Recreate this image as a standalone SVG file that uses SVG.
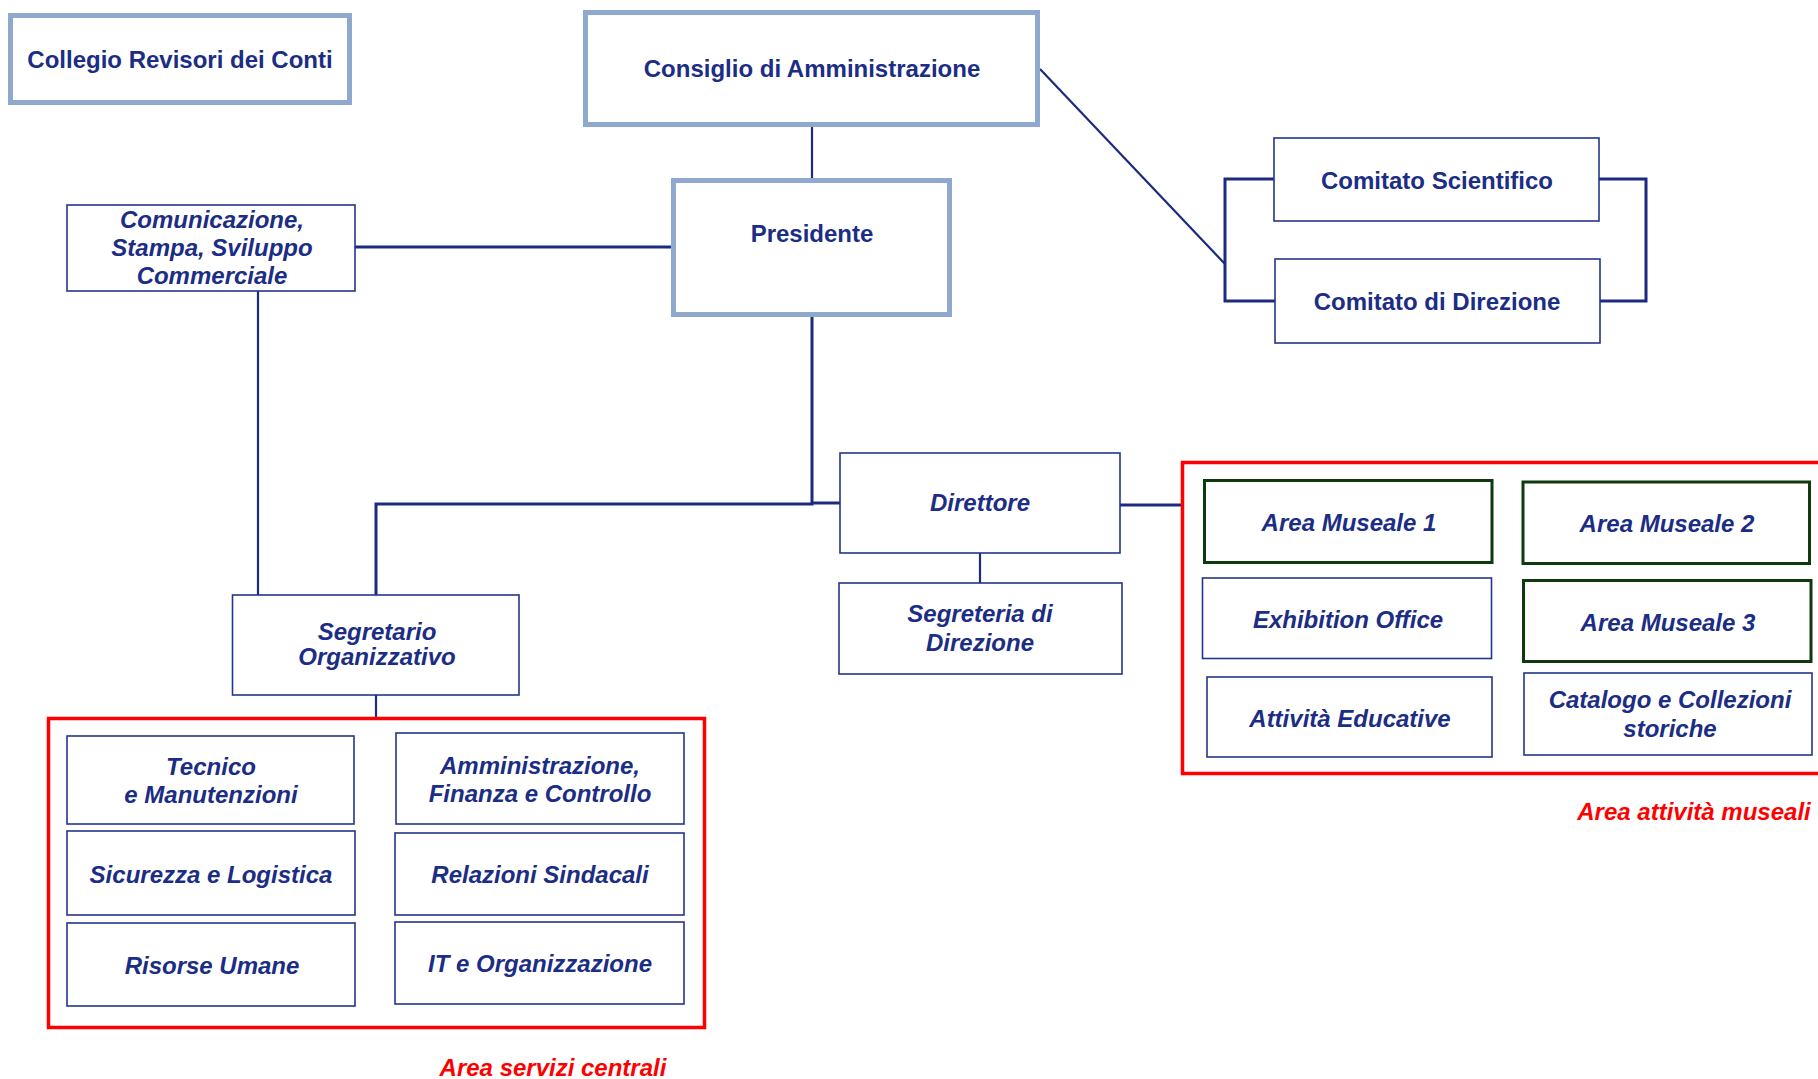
<svg xmlns="http://www.w3.org/2000/svg" width="1818" height="1079" viewBox="0 0 1818 1079">
<style>
  .bg { fill: #ffffff; }
  .thick { fill: #ffffff; stroke: #8EA8CE; stroke-width: 5; }
  .thin { fill: #ffffff; stroke: #23368A; stroke-width: 1.6; }
  .green { fill: #ffffff; stroke: #0E3A0E; stroke-width: 3; }
  .area { fill: none; stroke: #FF0000; stroke-width: 3.5; }
  .conn { fill: none; stroke: #1A2B80; stroke-width: 2.2; }
  .conn3 { fill: none; stroke: #1A2B80; stroke-width: 3; }
  text { font-family: "Liberation Sans", Arial, sans-serif; font-size: 24px; font-weight: bold; fill: #1B2D84; text-anchor: middle; }
  .it { font-style: italic; }
  .red { fill: #FF0000; font-style: italic; }
</style>
<rect class="bg" x="0" y="0" width="1818" height="1079"/>

<g id="connectors">
  <line class="conn" x1="812" y1="127" x2="812" y2="178"/>
  <line class="conn3" x1="355" y1="247" x2="671" y2="247"/>
  <line class="conn" x1="258" y1="291" x2="258" y2="595"/>
  <polyline class="conn3" points="812,317 812,504 376,504 376,595"/>
  <line class="conn3" x1="812" y1="503" x2="840" y2="503"/>
  <line class="conn" x1="980" y1="553" x2="980" y2="583"/>
  <line class="conn3" x1="1120" y1="505" x2="1181" y2="505"/>
  <line class="conn" x1="376" y1="695" x2="376" y2="717"/>
  <line class="conn" x1="1040" y1="69" x2="1225" y2="264"/>
  <polyline class="conn3" points="1274,179 1225,179 1225,301 1275,301"/>
  <polyline class="conn3" points="1599,179 1646,179 1646,301 1600,301"/>
</g>

<g id="collegio">
  <rect class="thick" x="10.5" y="15.5" width="339" height="87"/>
  <text x="180" y="68">Collegio Revisori dei Conti</text>
</g>
<g id="consiglio">
  <rect class="thick" x="585.5" y="12.5" width="452" height="112"/>
  <text x="812" y="77">Consiglio di Amministrazione</text>
</g>
<g id="presidente">
  <rect class="thick" x="673.5" y="180.5" width="276" height="134"/>
  <text x="812" y="242">Presidente</text>
</g>
<g id="comunicazione">
  <rect class="thin" x="67" y="205" width="288" height="86"/>
  <text class="it" x="212" y="228">Comunicazione,</text>
  <text class="it" x="212" y="256">Stampa, Sviluppo</text>
  <text class="it" x="212" y="284">Commerciale</text>
</g>
<g id="comitato-scientifico">
  <rect class="thin" x="1274" y="138" width="325" height="83"/>
  <text x="1437" y="189">Comitato Scientifico</text>
</g>
<g id="comitato-direzione">
  <rect class="thin" x="1275" y="259" width="325" height="84"/>
  <text x="1437" y="310">Comitato di Direzione</text>
</g>
<g id="direttore">
  <rect class="thin" x="840" y="453" width="280" height="100"/>
  <text class="it" x="980" y="511">Direttore</text>
</g>
<g id="segreteria">
  <rect class="thin" x="839" y="583" width="283" height="91"/>
  <text class="it" x="980" y="622">Segreteria di</text>
  <text class="it" x="980" y="651">Direzione</text>
</g>
<g id="segretario">
  <rect class="thin" x="232.5" y="595" width="286.5" height="100"/>
  <text class="it" x="377" y="640">Segretario</text>
  <text class="it" x="377" y="665">Organizzativo</text>
</g>

<g id="area-servizi-centrali">
  <rect class="area" x="48.5" y="718.5" width="656" height="309"/>
  <text class="red" x="553" y="1076">Area servizi centrali</text>
</g>
<g id="tecnico">
  <rect class="thin" x="67" y="736" width="287" height="88"/>
  <text class="it" x="211" y="775">Tecnico</text>
  <text class="it" x="211" y="803">e Manutenzioni</text>
</g>
<g id="amministrazione">
  <rect class="thin" x="396" y="733" width="288" height="91"/>
  <text class="it" x="540" y="774">Amministrazione,</text>
  <text class="it" x="540" y="802">Finanza e Controllo</text>
</g>
<g id="sicurezza">
  <rect class="thin" x="67" y="831" width="288" height="84"/>
  <text class="it" x="211" y="883">Sicurezza e Logistica</text>
</g>
<g id="relazioni">
  <rect class="thin" x="395" y="833" width="289" height="82"/>
  <text class="it" x="540" y="883">Relazioni Sindacali</text>
</g>
<g id="risorse">
  <rect class="thin" x="67" y="923" width="288" height="83"/>
  <text class="it" x="212" y="974">Risorse Umane</text>
</g>
<g id="it">
  <rect class="thin" x="395" y="922" width="289" height="82"/>
  <text class="it" x="540" y="972">IT e Organizzazione</text>
</g>

<g id="area-attivita-museali">
  <rect class="area" x="1182.5" y="462.5" width="700" height="311"/>
  <text class="red" x="1694" y="820">Area attività museali</text>
</g>
<g id="area-museale-1">
  <rect class="green" x="1204.5" y="480.5" width="287.5" height="82"/>
  <text class="it" x="1349" y="531">Area Museale 1</text>
</g>
<g id="area-museale-2">
  <rect class="green" x="1523" y="482" width="286.5" height="81.5"/>
  <text class="it" x="1667" y="532">Area Museale 2</text>
</g>
<g id="exhibition-office">
  <rect class="thin" x="1202.5" y="578" width="289" height="80.5"/>
  <text class="it" x="1348" y="628">Exhibition Office</text>
</g>
<g id="area-museale-3">
  <rect class="green" x="1523.5" y="580.5" width="287.5" height="81"/>
  <text class="it" x="1668" y="631">Area Museale 3</text>
</g>
<g id="attivita-educative">
  <rect class="thin" x="1207" y="677" width="285" height="80"/>
  <text class="it" x="1350" y="727">Attività Educative</text>
</g>
<g id="catalogo">
  <rect class="thin" x="1524" y="673" width="288" height="82"/>
  <text class="it" x="1670" y="708">Catalogo e Collezioni</text>
  <text class="it" x="1670" y="737">storiche</text>
</g>
</svg>
